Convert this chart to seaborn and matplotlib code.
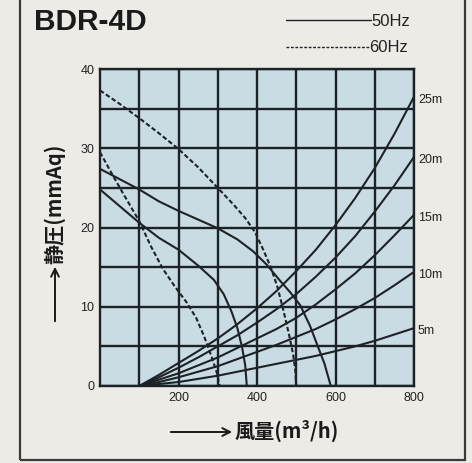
import matplotlib
matplotlib.use("Agg")
import matplotlib.pyplot as plt
import seaborn as sns
import pandas as pd
from matplotlib.patches import Rectangle, FancyArrowPatch
from matplotlib.lines import Line2D

# ---- data ----
title = "BDR-4D"
legend_labels = ["50Hz", "60Hz"]

# fan curves (static pressure mmAq vs airflow m3/h)
fan_60hz_high_x = [0, 50, 100, 150, 200, 250, 300, 340, 370, 395, 415, 435, 452, 468, 482, 492, 498, 500]
fan_60hz_high_y = [37.3, 35.6, 33.8, 31.9, 29.9, 27.6, 25.0, 22.9, 21.2, 19.4, 17.3, 15.0, 12.5, 9.4, 6.4, 4.0, 1.8, 0.0]
fan_60hz_low_x = [0, 30, 60, 100, 130, 160, 190, 220, 245, 265, 285, 298, 305]
fan_60hz_low_y = [29.5, 26.8, 24.2, 20.8, 17.6, 14.8, 12.6, 10.6, 8.6, 6.3, 3.6, 1.6, 0.0]
fan_50hz_high_x = [0, 50, 100, 150, 200, 250, 300, 350, 390, 425, 455, 485, 510, 535, 555, 572, 588]
fan_50hz_high_y = [27.4, 26.1, 24.8, 23.3, 22.1, 21.0, 19.9, 18.5, 17.0, 15.3, 13.5, 11.8, 10.2, 7.6, 5.0, 2.8, 0.0]
fan_50hz_low_x = [0, 50, 100, 150, 200, 250, 290, 315, 335, 350, 362, 370, 374]
fan_50hz_low_y = [24.8, 22.7, 20.6, 18.7, 17.2, 15.2, 13.4, 11.6, 9.4, 7.3, 4.9, 2.6, 0.0]

# duct resistance curves by duct length
duct_labels = ["25m", "20m", "15m", "10m", "5m"]
duct_x = [100, 150, 200, 250, 300, 350, 400, 450, 500, 550, 600, 650, 700, 750, 800]
duct_25m = [0, 1.4, 2.9, 4.4, 6.0, 7.8, 9.8, 12.0, 14.5, 17.2, 20.3, 23.7, 27.5, 31.8, 36.5]
duct_20m = [0, 1.1, 2.3, 3.6, 5.0, 6.4, 8.0, 9.7, 11.6, 13.8, 16.2, 18.9, 22.0, 25.3, 28.9]
duct_15m = [0, 0.8, 1.6, 2.6, 3.6, 4.8, 6.0, 7.2, 8.6, 10.3, 12.2, 14.2, 16.5, 19.0, 21.6]
duct_10m = [0, 0.5, 1.1, 1.8, 2.5, 3.4, 4.3, 5.2, 6.2, 7.2, 8.4, 9.7, 11.1, 12.7, 14.4]
duct_5m = [0, 0.25, 0.5, 0.9, 1.3, 1.8, 2.3, 2.8, 3.3, 3.8, 4.4, 5.0, 5.7, 6.5, 7.3]

x_ticks_major = [200, 400, 600, 800]
y_ticks_major = [0, 10, 20, 30, 40]

# ---- styling ----
sns.set_theme(style="white")
plt.rcParams["font.family"] = ["Liberation Sans", "Noto Sans CJK JP", "DejaVu Sans"]
INK = "#1d2226"
FIG_BG = "#ecebe6"
AX_BG = "#c9dbe3"

fig = plt.figure(figsize=(4.72, 4.63), dpi=100, facecolor=FIG_BG)
ax = fig.add_axes([100 / 472, 77 / 463, 314 / 472, 317 / 463])
ax.set_facecolor(AX_BG)

# outer frame
fig.add_artist(Rectangle((20 / 472, 3 / 463), 445 / 472, 1.2, transform=fig.transFigure,
                         fill=False, edgecolor="#3a3a3a", lw=1.6))

# curves
curve_lw = 1.5
dash = (2.2, 1.2)
fans = [
    (fan_50hz_high_x, fan_50hz_high_y, "-"),
    (fan_50hz_low_x, fan_50hz_low_y, "-"),
    (fan_60hz_high_x, fan_60hz_high_y, "--"),
    (fan_60hz_low_x, fan_60hz_low_y, "--"),
]
for xs, ys, ls in fans:
    df = pd.DataFrame({"x": xs, "y": ys})
    sns.lineplot(data=df, x="x", y="y", ax=ax, color=INK, lw=curve_lw, sort=False)
    if ls == "--":
        ax.lines[-1].set_dashes(dash)

duct_series = [duct_25m, duct_20m, duct_15m, duct_10m, duct_5m]
for lab, ys in zip(duct_labels, duct_series):
    df = pd.DataFrame({"x": duct_x, "y": ys})
    sns.lineplot(data=df, x="x", y="y", ax=ax, color=INK, lw=curve_lw)
    ax.text(810, ys[-1] - 0.4, lab, fontsize=9, color="#222", ha="left", va="center",
            clip_on=False)

ax.set_xlim(0, 800)
ax.set_ylim(0, 40)
ax.set_xticks(x_ticks_major)
ax.set_xticks([100, 300, 500, 700], minor=True)
ax.set_yticks(y_ticks_major)
ax.set_yticks([5, 15, 25, 35], minor=True)
ax.set_xticklabels([str(v) for v in x_ticks_major])
ax.set_yticklabels([str(v) for v in y_ticks_major])
ax.tick_params(which="both", length=0, labelsize=9, colors="#222")
ax.tick_params(axis="x", pad=4)
ax.tick_params(axis="y", pad=4)
ax.set_axisbelow(True)
ax.grid(True, which="both", color=INK, lw=1.7)
for s in ax.spines.values():
    s.set_color(INK)
    s.set_linewidth(1.7)
ax.set_xlabel("")
ax.set_ylabel("")

# title
fig.text(34 / 472, 1 - 22 / 463, title, fontsize=21.5, fontweight="bold", color="#1a1a1a",
         ha="left", va="center", family=["Liberation Sans", "DejaVu Sans"])

# legend (drawn as figure lines)
fig.add_artist(Line2D([286 / 472, 371 / 472], [1 - 20 / 463] * 2, transform=fig.transFigure,
                      color=INK, lw=1.0))
ldash = Line2D([286 / 472, 369 / 472], [1 - 47 / 463] * 2, transform=fig.transFigure,
               color=INK, lw=1.0)
ldash.set_dashes((2.0, 1.2))
fig.add_artist(ldash)
fig.text(371 / 472, 1 - 21 / 463, legend_labels[0], fontsize=12, color="#222", va="center")
fig.text(369 / 472, 1 - 48 / 463, legend_labels[1], fontsize=12, color="#222", va="center")

# axis labels with arrows
cjk = ["Noto Sans CJK JP", "DejaVu Sans"]
fig.text(235 / 472, 1 - 431 / 463, "風量(m³/h)", fontsize=14.5, fontweight="bold", color="#1a1a1a",
         ha="left", va="center", family=cjk)
fig.add_artist(FancyArrowPatch((168 / 472, 1 - 432 / 463), (235 / 472, 1 - 432 / 463),
                               transform=fig.transFigure, arrowstyle="->",
                               mutation_scale=14, lw=1.4, color="#1a1a1a"))
fig.text(55 / 472, 1 - 264 / 463, "静圧(mmAq)", fontsize=14.5, fontweight="bold", color="#1a1a1a",
         ha="center", va="bottom", rotation=90, family=cjk)
fig.add_artist(FancyArrowPatch((55 / 472, 1 - 324 / 463), (55 / 472, 1 - 264 / 463),
                               transform=fig.transFigure, arrowstyle="->",
                               mutation_scale=14, lw=1.4, color="#1a1a1a"))

fig.savefig("out.png", dpi=100, facecolor=FIG_BG)
